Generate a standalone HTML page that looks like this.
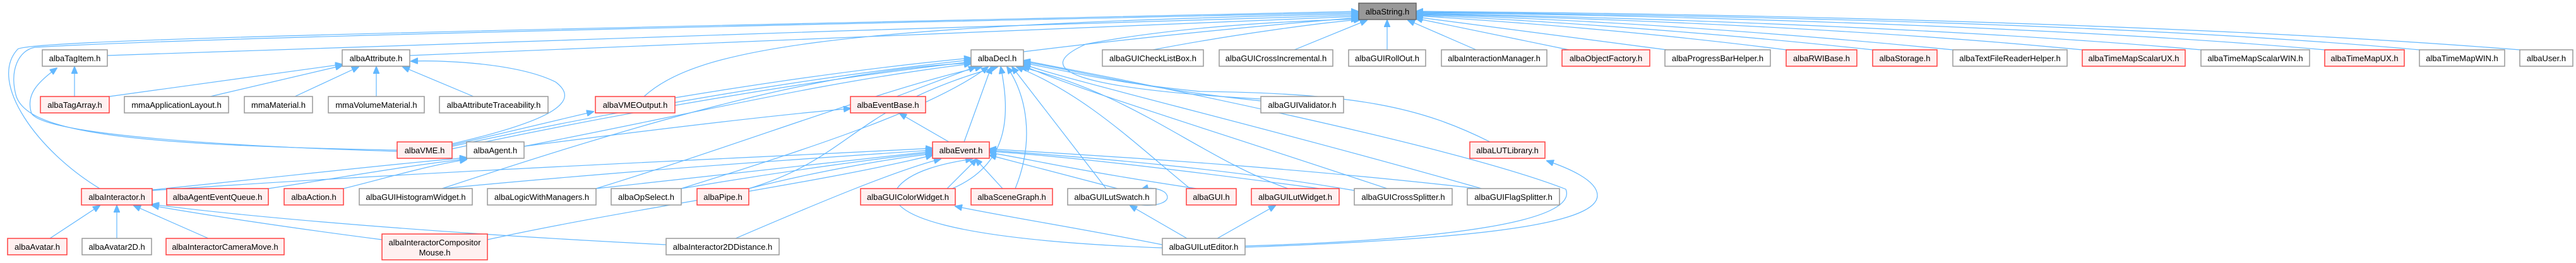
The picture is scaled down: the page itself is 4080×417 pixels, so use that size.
<!DOCTYPE html>
<html><head><meta charset="utf-8"><style>
html,body{margin:0;padding:0;background:#fff;}
svg{display:block;}
text{font-family:"Liberation Sans",Arial,sans-serif;font-size:13px;fill:#000;text-anchor:middle;}
.n rect{fill:#fff;stroke:#999;stroke-width:1.5;}
.r rect{fill:#fff0f0;stroke:#ff4040;stroke-width:1.5;}
.g rect{fill:#999;stroke:#666;stroke-width:1.5;}
path.e{fill:none;stroke:#63b8ff;stroke-width:1.2;}
</style></head><body>
<svg width="4080" height="417" viewBox="0 0 4080 417" xmlns="http://www.w3.org/2000/svg">
<defs><marker id="a" markerWidth="12" markerHeight="10" refX="11" refY="5" orient="auto" markerUnits="userSpaceOnUse"><path d="M0,0 L12,5 L0,10 z" fill="#63b8ff" stroke="#63b8ff"/></marker></defs>
<g marker-end="url(#a)">
<!-- into albaString -->
<path class="e" d="M170,88 C800,70 1500,40 2151,24"/>
<path class="e" d="M649,88 C1200,70 1700,40 2151,26"/>
<path class="e" d="M158,299 C60,240 -20,130 28,78 C45,62 800,48 2151,18"/>
<path class="e" d="M629,238 C200,230 40,210 25,150 C15,110 30,80 55,75 C300,60 1200,40 2151,20"/>
<path class="e" d="M1020,153 C1100,80 1300,40 2151,22"/>
<path class="e" d="M1621,82 C1800,60 2000,40 2151,28"/>
<path class="e" d="M1997,157 C1700,140 1630,110 1720,70 C1850,45 2000,35 2151,30"/>
<path class="e" d="M1826,79 C1950,55 2100,35 2155,31"/>
<path class="e" d="M2050,79 L2165,32"/>
<path class="e" d="M2197,79 L2197,32"/>
<path class="e" d="M2338,79 L2230,32"/>
<path class="e" d="M2485,79 L2242,29"/>
<path class="e" d="M2640,79 L2243,27"/>
<path class="e" d="M2829,79 C2600,50 2400,35 2243,25"/>
<path class="e" d="M2966,79 C2700,50 2400,30 2243,24"/>
<path class="e" d="M3093,79 C2800,50 2500,30 2243,23"/>
<path class="e" d="M3298,79 C3000,50 2600,30 2243,22"/>
<path class="e" d="M3486,79 C3100,45 2600,28 2243,21"/>
<path class="e" d="M3682,79 C3300,45 2700,25 2243,20"/>
<path class="e" d="M3832,79 C3400,40 2800,25 2243,19"/>
<path class="e" d="M3991,79 C3500,40 2800,22 2243,18"/>
<!-- into albaDecl -->
<path class="e" d="M716,232 C1000,170 1300,120 1538,95"/>
<path class="e" d="M716,236 C1000,175 1300,125 1538,98"/>
<path class="e" d="M830,232 C1100,180 1300,130 1538,101"/>
<path class="e" d="M1069,155 C1250,125 1400,105 1538,92"/>
<path class="e" d="M1420,153 L1545,106"/>
<path class="e" d="M1527,225 L1570,106"/>
<path class="e" d="M700,299 C1000,200 1300,110 1538,100"/>
<path class="e" d="M944,299 C1200,220 1400,140 1555,106"/>
<path class="e" d="M1079,299 C1300,230 1480,170 1565,106"/>
<path class="e" d="M1186,299 C1350,250 1350,170 1580,106"/>
<path class="e" d="M1508,299 C1600,260 1600,180 1585,106"/>
<path class="e" d="M1608,299 C1640,220 1625,150 1595,106"/>
<path class="e" d="M1752,299 L1603,106"/>
<path class="e" d="M1885,299 C1800,230 1720,150 1610,106"/>
<path class="e" d="M2040,299 C1900,250 1800,150 1616,106"/>
<path class="e" d="M2200,300 C1900,200 1700,140 1621,104"/>
<path class="e" d="M2350,300 C2000,200 1700,130 1621,102"/>
<path class="e" d="M2360,225 C2250,170 2150,148 1900,145 C1750,130 1680,110 1621,100"/>
<path class="e" d="M1997,160 C1800,140 1700,110 1621,98"/>
<path class="e" d="M1972,390 C2300,380 2500,350 2480,300 C2300,230 1800,130 1621,96"/>
<!-- into albaEvent -->
<path class="e" d="M241,302 C700,270 1200,250 1477,235"/>
<path class="e" d="M700,299 C1000,270 1300,250 1477,238"/>
<path class="e" d="M944,299 C1200,270 1400,250 1477,240"/>
<path class="e" d="M1079,299 C1250,270 1400,250 1477,242"/>
<path class="e" d="M1186,299 C1300,270 1420,250 1477,244"/>
<path class="e" d="M1500,299 L1547,252"/>
<path class="e" d="M1588,299 L1545,252"/>
<path class="e" d="M1770,299 L1567,246"/>
<path class="e" d="M1895,299 C1700,270 1620,250 1567,242"/>
<path class="e" d="M2090,299 C1800,260 1650,245 1567,240"/>
<path class="e" d="M2145,302 C1900,260 1650,245 1567,238"/>
<path class="e" d="M2350,300 C2000,260 1700,245 1567,236"/>
<path class="e" d="M772,380 C1000,330 1300,290 1477,246"/>
<path class="e" d="M1165,378 C1300,320 1420,270 1490,252"/>
<path class="e" d="M1841,393 C1500,380 1400,340 1420,300 C1440,270 1500,258 1540,252"/>
<!-- eventbase -->
<path class="e" d="M1503,225 L1425,180"/>
<path class="e" d="M830,232 C1000,210 1200,185 1347,172"/>
<!-- agent/VME -->
<path class="e" d="M241,301 C450,280 600,262 739,250"/>
<path class="e" d="M425,299 C550,280 650,262 739,252"/>
<path class="e" d="M544,299 C620,280 680,262 739,253"/>
<path class="e" d="M716,230 L940,177"/>
<path class="e" d="M716,228 C880,190 920,160 880,130 C820,100 700,95 651,97"/>
<!-- attribute -->
<path class="e" d="M173,153 L542,102"/>
<path class="e" d="M333,153 L542,104"/>
<path class="e" d="M467,153 L568,106"/>
<path class="e" d="M596,153 L596,106"/>
<path class="e" d="M750,153 L638,106"/>
<!-- tagitem -->
<path class="e" d="M118,153 L118,106"/>
<path class="e" d="M629,240 C300,230 70,210 50,180 C40,150 60,130 90,108"/>
<!-- interactor -->
<path class="e" d="M79,378 L158,326"/>
<path class="e" d="M185,378 L185,326"/>
<path class="e" d="M330,378 L212,326"/>
<path class="e" d="M605,380 C450,360 320,340 241,326"/>
<path class="e" d="M1055,388 C700,370 400,345 241,324"/>
<!-- luteditor -->
<path class="e" d="M1880,378 L1790,326"/>
<path class="e" d="M1928,378 L2020,326"/>
<path class="e" d="M1841,388 C1700,360 1600,345 1513,327"/>
<path class="e" d="M1972,392 C2300,380 2530,360 2530,310 C2530,285 2480,265 2450,255"/>
<path class="e" d="M1808,325 C1830,328 1860,320 1845,305 C1835,298 1820,297 1808,300"/>
</g>
<!-- nodes -->
<g class="g"><rect x="2152" y="5" width="91" height="26"/><text x="2197.5" y="23">albaString.h</text></g>
<g class="n"><rect x="67" y="79" width="103" height="26"/><text x="118.5" y="97">albaTagItem.h</text></g>
<g class="n"><rect x="542" y="79" width="107" height="26"/><text x="595.5" y="97">albaAttribute.h</text></g>
<g class="n"><rect x="1538" y="79" width="83" height="26"/><text x="1579.5" y="97">albaDecl.h</text></g>
<g class="n"><rect x="1746" y="79" width="160" height="26"/><text x="1826" y="97">albaGUICheckListBox.h</text></g>
<g class="n"><rect x="1931" y="79" width="180" height="26"/><text x="2021" y="97">albaGUICrossIncremental.h</text></g>
<g class="n"><rect x="2136" y="79" width="122" height="26"/><text x="2197" y="97">albaGUIRollOut.h</text></g>
<g class="n"><rect x="2283" y="79" width="167" height="26"/><text x="2366.5" y="97">albaInteractionManager.h</text></g>
<g class="r"><rect x="2474" y="79" width="139" height="26"/><text x="2543.5" y="97">albaObjectFactory.h</text></g>
<g class="n"><rect x="2637" y="79" width="167" height="26"/><text x="2720.5" y="97">albaProgressBarHelper.h</text></g>
<g class="r"><rect x="2829" y="79" width="112" height="26"/><text x="2885" y="97">albaRWIBase.h</text></g>
<g class="r"><rect x="2966" y="79" width="102" height="26"/><text x="3017" y="97">albaStorage.h</text></g>
<g class="n"><rect x="3093" y="79" width="181" height="26"/><text x="3183.5" y="97">albaTextFileReaderHelper.h</text></g>
<g class="r"><rect x="3298" y="79" width="163" height="26"/><text x="3379.5" y="97">albaTimeMapScalarUX.h</text></g>
<g class="n"><rect x="3486" y="79" width="172" height="26"/><text x="3572" y="97">albaTimeMapScalarWIN.h</text></g>
<g class="r"><rect x="3682" y="79" width="126" height="26"/><text x="3745" y="97">albaTimeMapUX.h</text></g>
<g class="n"><rect x="3832" y="79" width="135" height="26"/><text x="3899.5" y="97">albaTimeMapWIN.h</text></g>
<g class="n"><rect x="3991" y="79" width="84" height="26"/><text x="4033" y="97">albaUser.h</text></g>

<g class="r"><rect x="64" y="153" width="109" height="26"/><text x="118.5" y="171">albaTagArray.h</text></g>
<g class="n"><rect x="197" y="153" width="165" height="26"/><text x="279.5" y="171">mmaApplicationLayout.h</text></g>
<g class="n"><rect x="387" y="153" width="108" height="26"/><text x="441" y="171">mmaMaterial.h</text></g>
<g class="n"><rect x="520" y="153" width="152" height="26"/><text x="596" y="171">mmaVolumeMaterial.h</text></g>
<g class="n"><rect x="696" y="153" width="172" height="26"/><text x="782" y="171">albaAttributeTraceability.h</text></g>
<g class="r"><rect x="943" y="153" width="126" height="26"/><text x="1006" y="171">albaVMEOutput.h</text></g>
<g class="r"><rect x="1347" y="153" width="119" height="26"/><text x="1406.5" y="171">albaEventBase.h</text></g>
<g class="n"><rect x="1997" y="153" width="131" height="26"/><text x="2062.5" y="171">albaGUIValidator.h</text></g>

<g class="r"><rect x="629" y="225" width="87" height="26"/><text x="672.5" y="243">albaVME.h</text></g>
<g class="n"><rect x="739" y="225" width="91" height="26"/><text x="784.5" y="243">albaAgent.h</text></g>
<g class="r"><rect x="1477" y="225" width="90" height="26"/><text x="1522" y="243">albaEvent.h</text></g>
<g class="r"><rect x="2328" y="225" width="119" height="26"/><text x="2387.5" y="243">albaLUTLibrary.h</text></g>

<g class="r"><rect x="129" y="299" width="112" height="26"/><text x="185" y="317">albaInteractor.h</text></g>
<g class="r"><rect x="264" y="299" width="161" height="26"/><text x="344.5" y="317">albaAgentEventQueue.h</text></g>
<g class="r"><rect x="450" y="299" width="94" height="26"/><text x="497" y="317">albaAction.h</text></g>
<g class="n"><rect x="569" y="299" width="179" height="26"/><text x="658.5" y="317">albaGUIHistogramWidget.h</text></g>
<g class="n"><rect x="772" y="299" width="172" height="26"/><text x="858" y="317">albaLogicWithManagers.h</text></g>
<g class="n"><rect x="968" y="299" width="111" height="26"/><text x="1023.5" y="317">albaOpSelect.h</text></g>
<g class="r"><rect x="1104" y="299" width="82" height="26"/><text x="1145" y="317">albaPipe.h</text></g>
<g class="r"><rect x="1363" y="299" width="150" height="26"/><text x="1438" y="317">albaGUIColorWidget.h</text></g>
<g class="r"><rect x="1538" y="299" width="129" height="26"/><text x="1602.5" y="317">albaSceneGraph.h</text></g>
<g class="n"><rect x="1691" y="299" width="140" height="26"/><text x="1761" y="317">albaGUILutSwatch.h</text></g>
<g class="r"><rect x="1879" y="299" width="79" height="26"/><text x="1918.5" y="317">albaGUI.h</text></g>
<g class="r"><rect x="1982" y="299" width="139" height="26"/><text x="2051.5" y="317">albaGUILutWidget.h</text></g>
<g class="n"><rect x="2145" y="299" width="155" height="26"/><text x="2222.5" y="317">albaGUICrossSplitter.h</text></g>
<g class="n"><rect x="2324" y="299" width="146" height="26"/><text x="2397" y="317">albaGUIFlagSplitter.h</text></g>

<g class="r"><rect x="12" y="378" width="94" height="26"/><text x="59" y="396">albaAvatar.h</text></g>
<g class="n"><rect x="130" y="378" width="110" height="26"/><text x="185" y="396">albaAvatar2D.h</text></g>
<g class="r"><rect x="263" y="378" width="187" height="26"/><text x="356.5" y="396">albaInteractorCameraMove.h</text></g>
<g class="r"><rect x="605" y="371" width="167" height="41"/><text x="688.5" y="389">albaInteractorCompositor</text><text x="688.5" y="405">Mouse.h</text></g>
<g class="n"><rect x="1055" y="378" width="179" height="26"/><text x="1144.5" y="396">albaInteractor2DDistance.h</text></g>
<g class="n"><rect x="1841" y="378" width="131" height="26"/><text x="1906.5" y="396">albaGUILutEditor.h</text></g>
</svg>
</body></html>
